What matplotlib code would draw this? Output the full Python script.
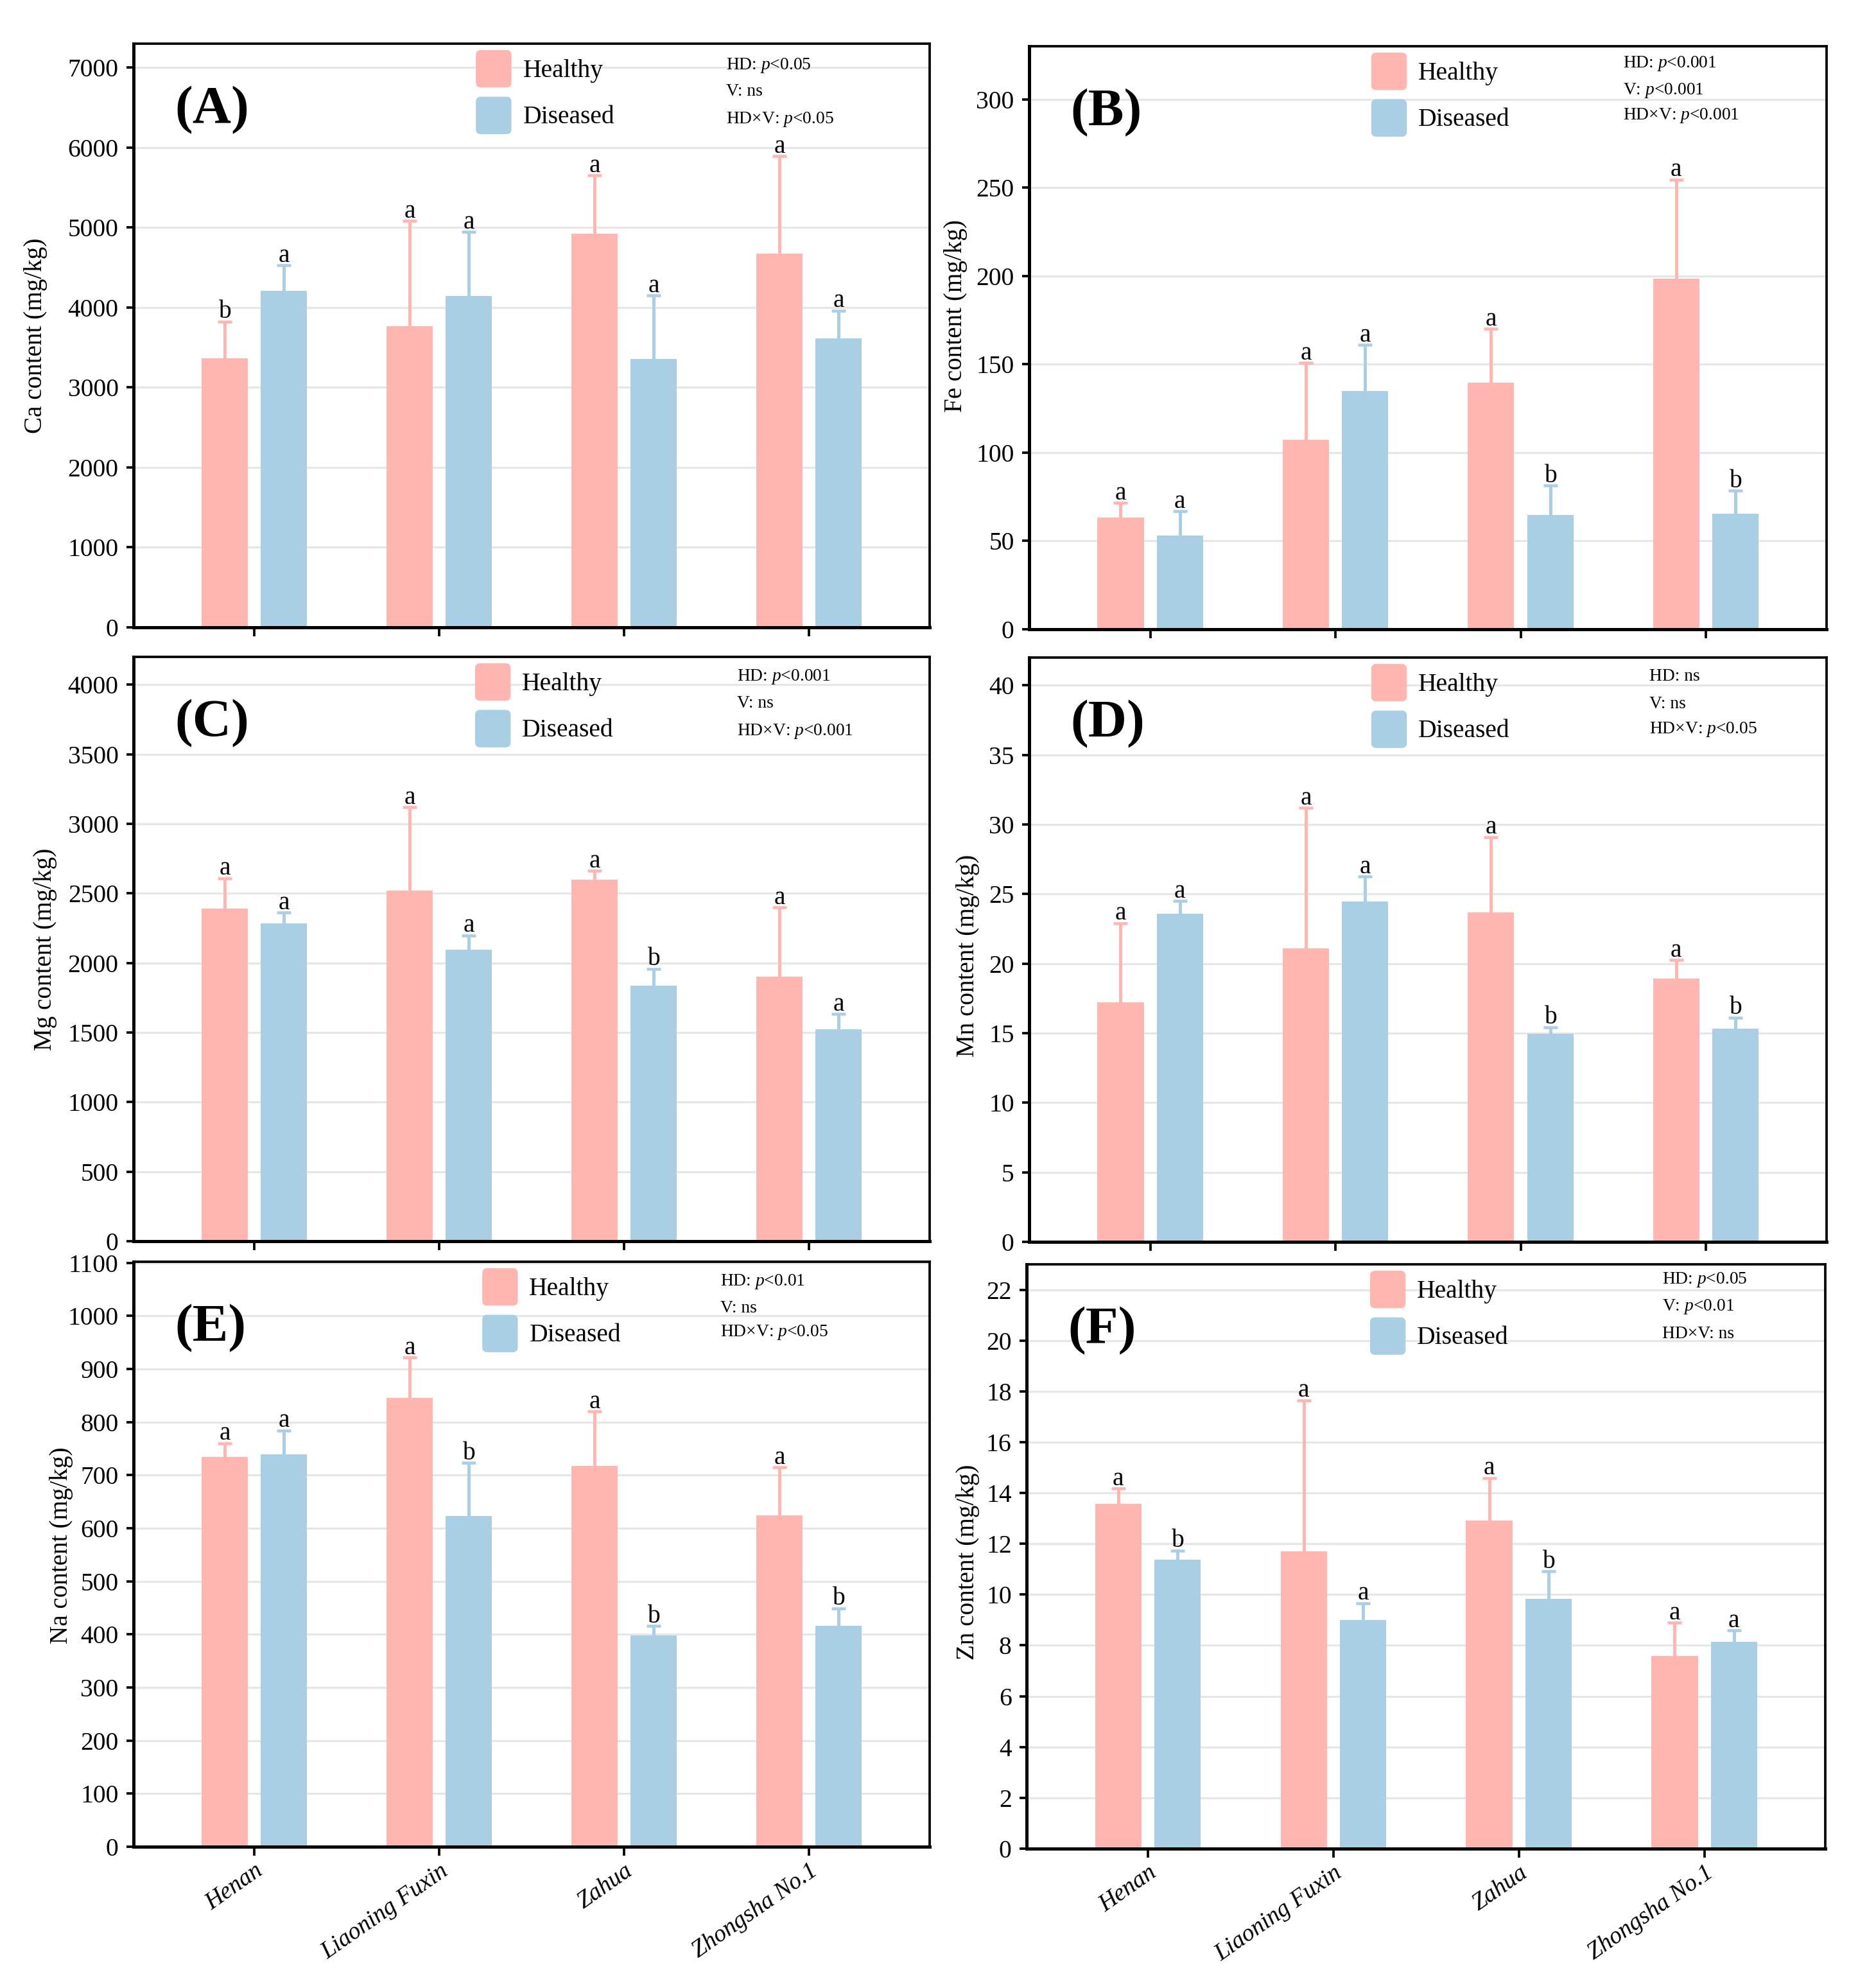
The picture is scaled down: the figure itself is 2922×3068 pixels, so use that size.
import matplotlib
matplotlib.use("Agg")
import matplotlib.pyplot as plt
import numpy as np
from matplotlib.patches import Patch, FancyBboxPatch
from matplotlib.legend_handler import HandlerPatch

plt.rcParams['font.family'] = ['Liberation Serif', 'DejaVu Serif']
plt.rcParams['mathtext.fontset'] = 'custom'
plt.rcParams['mathtext.it'] = 'Liberation Serif:italic'
plt.rcParams['mathtext.rm'] = 'Liberation Serif'

categories = ['Henan', 'Liaoning Fuxin', 'Zahua', 'Zhongsha No.1']

ca_healthy = [3364, 3765, 4920, 4674]
ca_healthy_err = [462, 1315, 730, 1217]
ca_diseased = [4206, 4145, 3359, 3611]
ca_diseased_err = [324, 801, 791, 349]
ca_letters_h = ['b', 'a', 'a', 'a']
ca_letters_d = ['a', 'a', 'a', 'a']

fe_healthy = [63.2, 107.1, 139.6, 198.6]
fe_healthy_err = [8.3, 43.6, 30.4, 55.9]
fe_diseased = [53.2, 134.7, 64.8, 65.5]
fe_diseased_err = [13.7, 26.2, 16.5, 13.0]
fe_letters_h = ['a', 'a', 'a', 'a']
fe_letters_d = ['a', 'a', 'b', 'b']

mg_healthy = [2391, 2518, 2598, 1901]
mg_healthy_err = [218, 601, 65, 498]
mg_diseased = [2286, 2096, 1839, 1521]
mg_diseased_err = [77, 102, 119, 111]
mg_letters_h = ['a', 'a', 'a', 'a']
mg_letters_d = ['a', 'a', 'b', 'a']

mn_healthy = [17.2, 21.1, 23.67, 18.93]
mn_healthy_err = [5.7, 10.1, 5.43, 1.31]
mn_diseased = [23.58, 24.46, 14.97, 15.33]
mn_diseased_err = [0.91, 1.79, 0.45, 0.80]
mn_letters_h = ['a', 'a', 'a', 'a']
mn_letters_d = ['a', 'a', 'b', 'b']

na_healthy = [734, 846, 717, 624]
na_healthy_err = [26, 75.5, 103, 90.6]
na_diseased = [739.5, 623, 397.7, 416.7]
na_diseased_err = [44.5, 100, 18.3, 32.3]
na_letters_h = ['a', 'a', 'a', 'a']
na_letters_d = ['a', 'b', 'b', 'b']

zn_healthy = [13.58, 11.70, 12.92, 7.57]
zn_healthy_err = [0.60, 5.95, 1.67, 1.32]
zn_diseased = [11.38, 9.0, 9.83, 8.14]
zn_diseased_err = [0.36, 0.66, 1.09, 0.45]
zn_letters_h = ['a', 'a', 'a', 'a']
zn_letters_d = ['b', 'a', 'b', 'a']

stats_A = ['HD: $p$<0.05', 'V: ns', 'HD×V: $p$<0.05']
stats_B = ['HD: $p$<0.001', 'V: $p$<0.001', 'HD×V: $p$<0.001']
stats_C = ['HD: $p$<0.001', 'V: ns', 'HD×V: $p$<0.001']
stats_D = ['HD: ns', 'V: ns', 'HD×V: $p$<0.05']
stats_E = ['HD: $p$<0.01', 'V: ns', 'HD×V: $p$<0.05']
stats_F = ['HD: $p$<0.05', 'V: $p$<0.01', 'HD×V: ns']

C_H = '#FFB5B0'
C_D = '#AACFE5'

W, H = 2922, 3068
fig = plt.figure(figsize=(W / 300, H / 300), dpi=300)


def rect(l, r, t, b):
    return [l / W, 1 - b / H, (r - l) / W, (b - t) / H]


class RoundHandler(HandlerPatch):
    def create_artists(self, legend, orig_handle, xdescent, ydescent,
                       width, height, fontsize, trans):
        p = FancyBboxPatch((-xdescent, -ydescent), width, height,
                           boxstyle="round,pad=0,rounding_size=%f" % (0.14 * min(width, height)),
                           facecolor=orig_handle.get_facecolor(), edgecolor='none',
                           transform=trans)
        return [p]


panels = [
    dict(r=rect(208, 1448, 68, 977), h=ca_healthy, he=ca_healthy_err, d=ca_diseased, de=ca_diseased_err,
         lh=ca_letters_h, ld=ca_letters_d, ylab='Ca content (mg/kg)', yt=np.arange(0, 7001, 1000), ytop=7300,
         tag='(A)', st=stats_A, stx=0.744, sty=[0.963, 0.918, 0.870], legx=0.430, ylc=(-0.108, 0.5), xl=False),
    dict(r=rect(1603, 2845, 72, 980), h=fe_healthy, he=fe_healthy_err, d=fe_diseased, de=fe_diseased_err,
         lh=fe_letters_h, ld=fe_letters_d, ylab='Fe content (mg/kg)', yt=np.arange(0, 301, 50), ytop=330,
         tag='(B)', st=stats_B, stx=0.745, sty=[0.970, 0.924, 0.881], legx=0.429, ylc=(-0.0775, 0.537), xl=False),
    dict(r=rect(208, 1448, 1023, 1933), h=mg_healthy, he=mg_healthy_err, d=mg_diseased, de=mg_diseased_err,
         lh=mg_letters_h, ld=mg_letters_d, ylab='Mg content (mg/kg)', yt=np.arange(0, 4001, 500), ytop=4200,
         tag='(C)', st=stats_C, stx=0.758, sty=[0.966, 0.920, 0.873], legx=0.429, ylc=(-0.0957, 0.5), xl=False),
    dict(r=rect(1603, 2845, 1024, 1934), h=mn_healthy, he=mn_healthy_err, d=mn_diseased, de=mn_diseased_err,
         lh=mn_letters_h, ld=mn_letters_d, ylab='Mn content (mg/kg)', yt=np.arange(0, 41, 5), ytop=42,
         tag='(D)', st=stats_D, stx=0.778, sty=[0.968, 0.920, 0.877], legx=0.429, ylc=(-0.0617, 0.49), xl=False),
    dict(r=rect(208, 1448, 1965, 2876), h=na_healthy, he=na_healthy_err, d=na_diseased, de=na_diseased_err,
         lh=na_letters_h, ld=na_letters_d, ylab='Na content (mg/kg)', yt=np.arange(0, 1101, 100), ytop=1102,
         tag='(E)', st=stats_E, stx=0.737, sty=[0.966, 0.920, 0.879], legx=0.438, ylc=(-0.076, 0.515), xl=True),
    dict(r=rect(1599, 2843, 1969, 2879), h=zn_healthy, he=zn_healthy_err, d=zn_diseased, de=zn_diseased_err,
         lh=zn_letters_h, ld=zn_letters_d, ylab='Zn content (mg/kg)', yt=np.arange(0, 23, 2), ytop=23,
         tag='(F)', st=stats_F, stx=0.796, sty=[0.974, 0.927, 0.881], legx=0.430, ylc=(-0.0585, 0.49), xl=True),
]

x = np.arange(len(categories))
off = 0.16
bw = 0.25


def upper_errorbar(ax, xs, vals, errs, color):
    cont = ax.errorbar(xs, vals, yerr=[np.zeros(len(vals)), errs], fmt='none', ecolor=color,
                       elinewidth=1.2, capsize=2.7, capthick=1.1, zorder=3)
    for cl in cont[1]:
        if np.allclose(np.asarray(cl.get_ydata(), dtype=float), np.asarray(vals, dtype=float)):
            cl.set_visible(False)


for p in panels:
    ax = fig.add_axes(p['r'])
    ax.set_axisbelow(True)
    ax.yaxis.grid(True, color='#E6E6E6', linewidth=0.75)
    ax.bar(x - off, p['h'], bw, color=C_H, zorder=2, label='Healthy')
    ax.bar(x + off, p['d'], bw, color=C_D, zorder=2, label='Diseased')
    upper_errorbar(ax, x - off, p['h'], p['he'], C_H)
    upper_errorbar(ax, x + off, p['d'], p['de'], C_D)
    for i in range(4):
        ax.annotate(p['lh'][i], xy=(x[i] - off, p['h'][i] + p['he'][i]), xytext=(0, 1.3),
                    textcoords='offset points', ha='center', va='baseline', fontsize=9.5)
        ax.annotate(p['ld'][i], xy=(x[i] + off, p['d'][i] + p['de'][i]), xytext=(0, 1.3),
                    textcoords='offset points', ha='center', va='baseline', fontsize=9.5)
    ax.set_xlim(-0.654, 3.652)
    ax.set_ylim(0, p['ytop'])
    ax.set_yticks(p['yt'])
    ax.set_xticks(x)
    if p['xl']:
        ax.set_xticklabels(categories, rotation=35, ha='right', rotation_mode='anchor',
                           fontstyle='italic', fontsize=9)
    else:
        ax.set_xticklabels([])
    ax.tick_params(axis='x', direction='out', length=3.4, width=0.9, pad=1.5)
    ax.tick_params(axis='y', direction='out', length=2.6, width=0.9, pad=3, labelsize=9.5)
    for s in ['left', 'bottom']:
        ax.spines[s].set_linewidth(1.2)
    for s in ['top', 'right']:
        ax.spines[s].set_linewidth(0.9)
    ax.set_ylabel(p['ylab'], fontsize=9.4)
    ax.yaxis.set_label_coords(*p['ylc'])
    ax.text(0.052, 0.886, p['tag'], transform=ax.transAxes, fontsize=20, fontweight='bold',
            ha='left', va='center')
    for s_txt, yy in zip(p['st'], p['sty']):
        ax.text(p['stx'], yy, s_txt, transform=ax.transAxes, fontsize=6.6, ha='left', va='center')
    handles = [Patch(facecolor=C_H, label='Healthy'), Patch(facecolor=C_D, label='Diseased')]
    ax.legend(handles=handles, loc='upper left', bbox_to_anchor=(p['legx'], 0.989), frameon=False,
              fontsize=9.5, handlelength=1.4, handleheight=1.89, handletextpad=0.45,
              labelspacing=0.36, borderpad=0, borderaxespad=0,
              handler_map={Patch: RoundHandler()})

fig.savefig('out.png', dpi=300, facecolor='white')
